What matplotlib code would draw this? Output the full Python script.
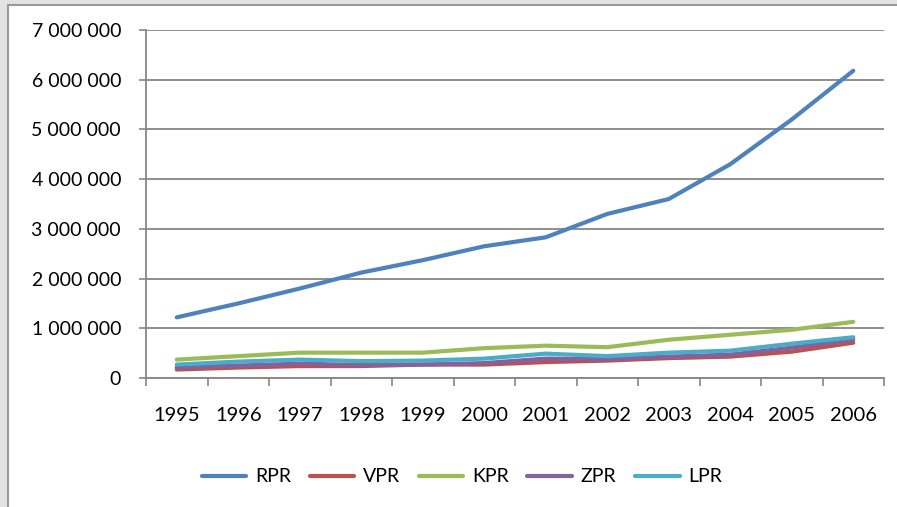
import numpy as np
import matplotlib.pyplot as plt
from matplotlib.patches import Rectangle
from matplotlib.ticker import FuncFormatter

plt.rcParams['font.family'] = ['Lato', 'DejaVu Sans']

# data
years = ['1995', '1996', '1997', '1998', '1999', '2000',
         '2001', '2002', '2003', '2004', '2005', '2006']
rpr = [1220000, 1500000, 1800000, 2120000, 2370000, 2650000,
       2830000, 3300000, 3600000, 4300000, 5200000, 6180000]
vpr = [170000, 210000, 240000, 240000, 270000, 270000,
       320000, 350000, 400000, 430000, 530000, 710000]
kpr = [370000, 440000, 510000, 510000, 510000, 600000,
       650000, 620000, 770000, 870000, 970000, 1130000]
zpr = [210000, 250000, 290000, 260000, 270000, 300000,
       390000, 380000, 430000, 470000, 610000, 770000]
lpr = [270000, 330000, 370000, 340000, 350000, 390000,
       490000, 440000, 510000, 550000, 690000, 820000]

series = [('RPR', rpr, '#4F81BD'), ('VPR', vpr, '#C0504D'),
          ('KPR', kpr, '#9BBB59'), ('ZPR', zpr, '#8064A2'),
          ('LPR', lpr, '#4BACC6')]

fig = plt.figure(figsize=(8.97, 5.07), dpi=100)
fig.patch.set_facecolor('#e3e3e3')
# white chart area with grey border on the left/top
fig.patches.append(Rectangle((8 / 897, -0.1), 1.1, (502 / 507) + 0.1,
                             transform=fig.transFigure, facecolor='white',
                             edgecolor='#9a9a9a', linewidth=1.5, zorder=-10))

ax = fig.add_axes([146 / 897, 129 / 507, 738 / 897, 348 / 507])
ax.set_facecolor('none')

x = np.arange(len(years))
for name, vals, col in series:
    ax.plot(x, vals, color=col, lw=3, label=name,
            solid_capstyle='round', solid_joinstyle='round')

ax.set_xlim(-0.5, len(years) - 0.5)
ax.set_ylim(0, 7000000)
ax.set_yticks(np.arange(0, 7000001, 1000000))
ax.yaxis.set_major_formatter(FuncFormatter(lambda v, p: f'{int(v):,}'.replace(',', ' ')))
ax.set_xticks(x)
ax.set_xticklabels(years)
ax.set_xticks(np.arange(-0.5, len(years), 1), minor=True)
ax.tick_params(axis='x', which='major', length=0, pad=21, labelsize=14.5)
ax.tick_params(axis='x', which='minor', length=6, color='#868686', width=1.2)
ax.tick_params(axis='y', length=5, color='#868686', width=1.2, labelsize=14, pad=13)

ax.grid(axis='y', color='#868686', lw=1.3)
ax.set_axisbelow(True)
for s in ['top', 'right']:
    ax.spines[s].set_visible(False)
for s in ['left', 'bottom']:
    ax.spines[s].set_color('#868686')
    ax.spines[s].set_linewidth(1.3)

ax.legend(loc='center', bbox_to_anchor=(462 / 897, 30 / 507),
          bbox_transform=fig.transFigure, ncol=5, frameon=False,
          fontsize=14, handlelength=2.3, columnspacing=0.95, handletextpad=0.45)

plt.savefig('out.png', dpi=100)
